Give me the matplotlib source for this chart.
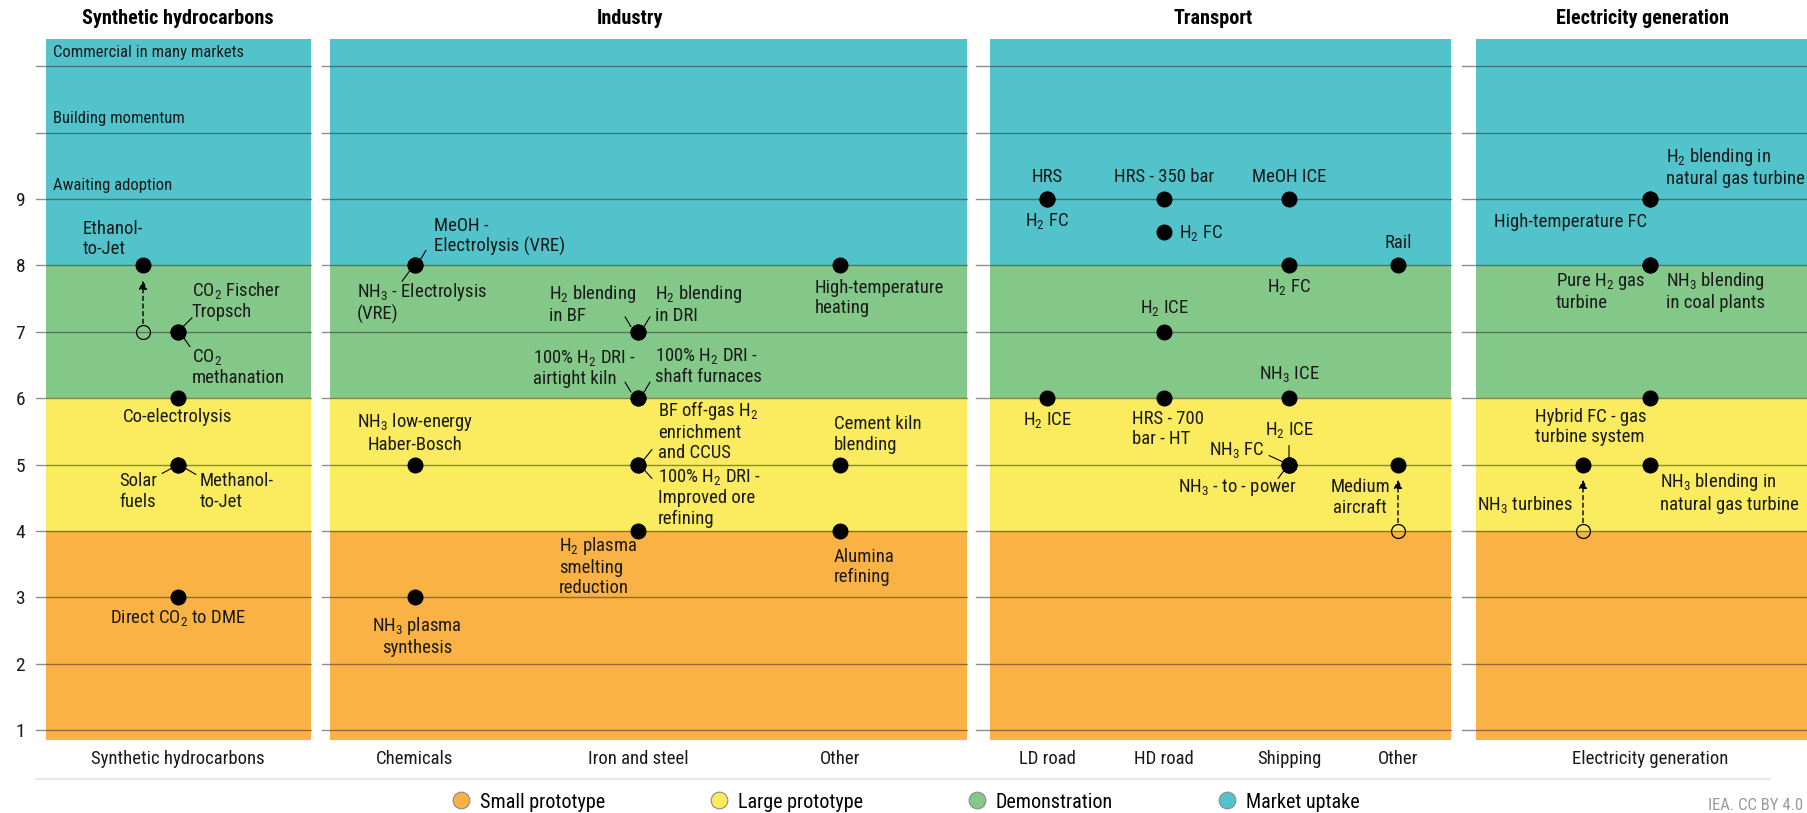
"""
plot.py
Hydrogen technology readiness by sector (TRL chart).
"""
import matplotlib
matplotlib.use('Agg')
import matplotlib.pyplot as plt
from matplotlib import font_manager
from matplotlib.lines import Line2D
from matplotlib.transforms import ScaledTranslation

W, H, DPI = 1807, 813, 100

# the original uses a narrow sans; take a condensed family if one is installed
installed = {f.name for f in font_manager.fontManager.ttflist}
FONT, FS = 'Liberation Sans', 0.85
for cand in ['Liberation Sans Narrow', 'Arial Narrow', 'Roboto Condensed',
             'Noto Sans Condensed', 'Open Sans Condensed', 'DejaVu Sans Condensed']:
    if cand in installed:
        FONT, FS = cand, 1.0
        break
plt.rcParams['font.family'] = [FONT, 'Liberation Sans', 'DejaVu Sans']
plt.rcParams['mathtext.default'] = 'regular'

# ---------------- data ----------------
sectors = ['Synthetic hydrocarbons', 'Industry', 'Transport', 'Electricity generation']
sector_categories = [
    ['Synthetic hydrocarbons'],
    ['Chemicals', 'Iron and steel', 'Other'],
    ['LD road', 'HD road', 'Shipping', 'Other'],
    ['Electricity generation'],
]
stages = ['Small prototype', 'Large prototype', 'Demonstration', 'Market uptake']
stage_start = [1, 4, 6, 8]
trl_ticks = [1, 2, 3, 4, 5, 6, 7, 8, 9]
upper_levels = [9, 10, 11]
upper_names = ['Awaiting adoption', 'Building momentum', 'Commercial in many markets']

tech_name = [
    # synthetic hydrocarbons
    'Ethanol-\nto-Jet', 'CO$_2$ Fischer\nTropsch', 'CO$_2$\nmethanation', 'Co-electrolysis',
    'Solar\nfuels', 'Methanol-\nto-Jet', 'Direct CO$_2$ to DME',
    # industry
    'MeOH -\nElectrolysis (VRE)', 'NH$_3$ - Electrolysis\n(VRE)', 'NH$_3$ low-energy\nHaber-Bosch',
    'NH$_3$ plasma\nsynthesis', 'H$_2$ blending\nin BF', 'H$_2$ blending\nin DRI',
    '100% H$_2$ DRI -\nairtight kiln', '100% H$_2$ DRI -\nshaft furnaces',
    'BF off-gas H$_2$\nenrichment\nand CCUS', '100% H$_2$ DRI -\nImproved ore\nrefining',
    'H$_2$ plasma\nsmelting\nreduction', 'High-temperature\nheating', 'Cement kiln\nblending',
    'Alumina\nrefining',
    # transport
    'HRS', 'H$_2$ FC', 'H$_2$ ICE', 'HRS - 350 bar', 'H$_2$ FC', 'H$_2$ ICE', 'HRS - 700\nbar - HT',
    'MeOH ICE', 'H$_2$ FC', 'NH$_3$ ICE', 'H$_2$ ICE', 'NH$_3$ FC', 'NH$_3$ - to - power',
    'Rail', 'Medium\naircraft',
    # electricity generation
    'H$_2$ blending in\nnatural gas turbine', 'High-temperature FC', 'Pure H$_2$ gas\nturbine',
    'NH$_3$ blending\nin coal plants', 'Hybrid FC - gas\nturbine system', 'NH$_3$ turbines',
    'NH$_3$ blending in\nnatural gas turbine',
]
tech_sector = [0] * 7 + [1] * 14 + [2] * 15 + [3] * 7
tech_cat = [0, 0, 0, 0, 0, 0, 0,
            0, 0, 0, 0, 1, 1, 1, 1, 1, 1, 1, 2, 2, 2,
            0, 0, 0, 1, 1, 1, 1, 2, 2, 2, 2, 2, 2, 3, 3,
            0, 0, 0, 0, 0, 0, 0]
tech_trl = [8, 7, 7, 6, 5, 5, 3,
            8, 8, 5, 3, 7, 7, 6, 6, 5, 5, 4, 8, 5, 4,
            9, 9, 6, 9, 8.5, 7, 6, 9, 8, 6, 5, 5, 5, 8, 5,
            9, 9, 8, 8, 6, 5, 5]
# earlier TRL for technologies that moved up (open circle + dashed arrow)
tech_prev_trl = {0: 7, 35: 4, 41: 4}

# ---------------- layout ----------------
STAGE_COLORS = ['#F9B243', '#FAEC5E', '#83C888', '#53C3CB']
GRID_COLOR = '#333333'
TXT = '#1a1a1a'
# panels laid out in pixel units: (left, right) of each coloured box
PANEL_X = [(46, 311), (330, 967), (990, 1451), (1476, 1807)]
GRID_STUB = [10, 8, 14, 14]
CAT_PX = [[178], [415, 638, 840], [1047, 1164, 1289, 1398], [1650]]
TITLE_PX = [178, 630, 1213, 1643]
AX_TOP, AX_BOTTOM = 39, 740
YLIM = (0.85, 11.41)
X_SHIFT = {0: -35, 41: -67}

# label placement in pixels relative to the marker: dx, dy, ha, leader line
LABEL_POS = [
    (-60, 26, 'left', None), (14, 31, 'left', (5, 5, 14, 14)),
    (14, -35, 'left', (5, -5, 12, -15)), (0, -19, 'center', None),
    (-59, -27, 'left', (-5, -3, -16, -9)), (22, -27, 'left', (6, -3, 18, -10)),
    (0, -21, 'center', None),
    (19, 29, 'left', (5, 5, 11, 15)), (-58, -37, 'left', (-5, -5, -13, -16)),
    (0, 32, 'center', None), (2, -39, 'center', None),
    (-89, 28, 'left', (-7, 5, -13, 15)), (17, 28, 'left', (6, 5, 12, 15)),
    (-105, 30, 'left', (-7, 6, -13, 16)), (17, 32, 'left', (6, 6, 12, 16)),
    (20, 34, 'left', (6, 5, 14, 15)), (20, -33, 'left', (6, -5, 14, -14)),
    (-79, -35, 'left', None), (-25, -33, 'left', None), (-6, 30, 'left', None),
    (-6, -36, 'left', None),
    (0, 22, 'center', None), (0, -22, 'center', None), (0, -22, 'center', None),
    (0, 22, 'center', None), (15, -1, 'left', None), (0, 24, 'center', None),
    (-32, -31, 'left', None), (0, 22, 'center', None), (0, -22, 'center', None),
    (0, 24, 'center', None), (0, 35, 'center', (0, 6, 0, 19)),
    (-25, 15, 'right', (-7, 3, -20, 9)), (8, -23, 'right', (-5, -6, -11, -14)),
    (0, 22, 'center', None), (-38, -33, 'center', None),
    (16, 32, 'left', None), (-3, -23, 'right', None), (-94, -26, 'left', None),
    (16, -26, 'left', None), (-115, -29, 'left', None), (-10, -40, 'right', None),
    (10, -28, 'left', None),
]


def px_offset(ax, dx, dy):
    return ax.transData + ScaledTranslation(dx / DPI, dy / DPI, ax.figure.dpi_scale_trans)


fig = plt.figure(figsize=(W / DPI, H / DPI), dpi=DPI)
axes = []
for i, (x0, x1) in enumerate(PANEL_X):
    ax = fig.add_axes([x0 / W, 1 - AX_BOTTOM / H, (x1 - x0) / W, (AX_BOTTOM - AX_TOP) / H])
    ax.set_xlim(x0, x1)
    ax.set_ylim(*YLIM)
    for s in ax.spines.values():
        s.set_visible(False)

    # stage bands
    for k, c in enumerate(STAGE_COLORS):
        lo = YLIM[0] if k == 0 else stage_start[k]
        hi = stage_start[k + 1] if k + 1 < len(stage_start) else YLIM[1]
        ax.axhspan(lo, hi, color=c, lw=0, zorder=0)

    # gridlines, sticking out a little to the left of each panel
    stub = GRID_STUB[i] / (x1 - x0)
    for y in range(1, 12):
        ax.axhline(y, xmin=-stub, xmax=1, color=GRID_COLOR, alpha=0.55, lw=1.0,
                   clip_on=False, zorder=1)

    ax.set_xticks(CAT_PX[i])
    ax.set_xticklabels(sector_categories[i], fontsize=13.5 * FS, color=TXT)
    ax.tick_params(axis='x', length=0, pad=7)
    if i == 0:
        ax.set_yticks(trl_ticks)
        ax.set_yticklabels([str(t) for t in trl_ticks], fontsize=14 * FS, color=TXT)
        ax.tick_params(axis='y', length=0, pad=15)
        for lvl, name in zip(upper_levels, upper_names):
            ax.text(0.026, lvl + 0.21, name, transform=ax.get_yaxis_transform(),
                    fontsize=12 * FS, va='center', ha='left', color=TXT)
    else:
        ax.set_yticks([])

    fig.text(TITLE_PX[i] / W, 1 - 18 / H, sectors[i],
             fontsize=14.5 * FS, fontweight='bold', ha='center', va='center')
    axes.append(ax)

# technologies
for j, name in enumerate(tech_name):
    ax = axes[tech_sector[j]]
    x = CAT_PX[tech_sector[j]][tech_cat[j]] + X_SHIFT.get(j, 0)
    y = tech_trl[j]
    ax.plot(x, y, 'o', ms=10.5, color='black', zorder=5)
    if j in tech_prev_trl:
        y0 = tech_prev_trl[j]
        ax.plot(x, y0, 'o', ms=10, mfc='none', mec='black', mew=0.9, zorder=5)
        ax.annotate('', xy=(x, y), xytext=(x, y0),
                    arrowprops=dict(arrowstyle='-|>,head_length=0.5,head_width=0.25',
                                    color='black', lw=1, ls=(0, (3, 2.5)),
                                    shrinkA=6, shrinkB=11), zorder=4)
    dx, dy, ha, leader = LABEL_POS[j]
    ax.annotate(name, xy=(x, y), xytext=(dx, dy), textcoords='offset pixels',
                ha=ha, va='center', multialignment=ha, fontsize=13.5 * FS,
                color=TXT, linespacing=1.15, zorder=6)
    if leader is not None:
        lx0, ly0, lx1, ly1 = leader
        ax.annotate('', xy=(x, y), xycoords=px_offset(ax, lx1, ly1),
                    xytext=(x, y), textcoords=px_offset(ax, lx0, ly0),
                    arrowprops=dict(arrowstyle='-', color='black', lw=0.8,
                                    shrinkA=0, shrinkB=0), zorder=6)

# separator line and legend
fig.add_artist(Line2D([36 / W, 1770 / W], [1 - 779 / H] * 2, color='#e3e3e3', lw=1.2))
handles = [Line2D([], [], ls='none', marker='o', ms=12, mfc=c, mec='#8a8a8a', mew=0.8)
           for c in STAGE_COLORS]
fig.legend(handles, stages, loc='center', bbox_to_anchor=(905 / W, 1 - 802 / H),
           ncol=4, frameon=False, fontsize=14.5 * FS, handletextpad=0.45,
           columnspacing=5.15 / FS, borderaxespad=0, handlelength=1.0)
fig.text(1803 / W, 1 - 805 / H, 'IEA. CC BY 4.0', ha='right', va='center',
         fontsize=12 * FS, color='#9a9a9a')

fig.savefig('out.png', dpi=DPI)
